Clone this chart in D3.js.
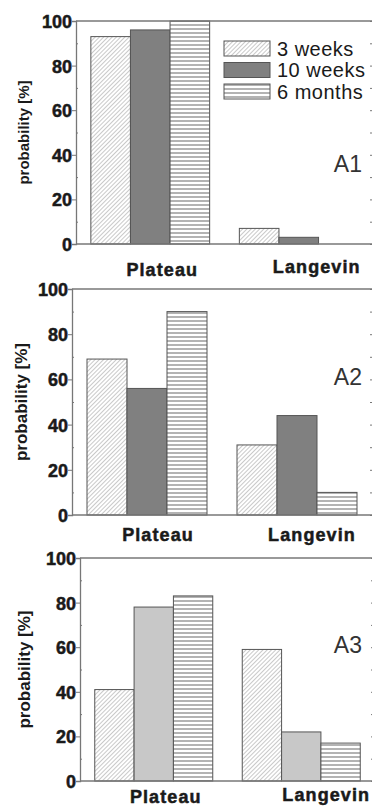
<!DOCTYPE html>
<html>
<head>
<meta charset="utf-8">
<script src="https://cdn.jsdelivr.net/npm/d3@7"></script>
<style>
  body { margin: 0; background: #fff; }
  svg { display: block; }
  svg text { font-family: "Liberation Sans", Arial, sans-serif; }
  svg text.heavy { stroke: #1a1a1a; stroke-width: 0.5px; }
</style>
</head>
<body>
<svg id="chart" width="372" height="807"></svg>
<script>
// data
const categories = ["Plateau", "Langevin"];
const seriesNames = ["3 weeks", "10 weeks", "6 months"];
const panelNames = ["A1", "A2", "A3"];
// values per series: [Plateau, Langevin]
const valuesA1 = [[93, 7], [96, 3], [100, 0]];
const valuesA2 = [[69, 31], [56, 44], [90, 10]];
const valuesA3 = [[41, 59], [78, 22], [83, 17]];
const yTicks = [0, 20, 40, 60, 80, 100];
const yMinorTicks = [10, 30, 50, 70, 90];

const svg = d3.select("#chart");
const axisColor = "#777";
const textColor = "#1a1a1a";

// fill patterns
const defs = svg.append("defs");
const hatch = defs.append("pattern")
  .attr("id", "hatch")
  .attr("patternUnits", "userSpaceOnUse")
  .attr("width", 3).attr("height", 3)
  .attr("patternTransform", "rotate(45)");
hatch.append("rect").attr("width", 3).attr("height", 3).attr("fill", "#fff");
hatch.append("line")
  .attr("x1", 0).attr("y1", 0).attr("x2", 0).attr("y2", 3)
  .attr("stroke", "#888").attr("stroke-width", 0.9);

const stripes = defs.append("pattern")
  .attr("id", "stripes")
  .attr("patternUnits", "userSpaceOnUse")
  .attr("width", 8).attr("height", 4);
stripes.append("rect").attr("width", 8).attr("height", 4).attr("fill", "#fff");
stripes.append("line")
  .attr("x1", 0).attr("y1", 1).attr("x2", 8).attr("y2", 1)
  .attr("stroke", "#8a8a8a").attr("stroke-width", 1.3);

const panels = [
  { values: valuesA1, top: 21, bottom: 244, left: 76, right: 373, frame: 374, solid: "#808080",
    catY: [276, 273], catDx: [12, 18], ylabX: 24, ylabSize: 15, legend: true },
  { values: valuesA2, top: 289, bottom: 515, left: 72, right: 372, frame: 374, solid: "#808080",
    catY: [541, 541], catDx: [11, 15], ylabX: 21, ylabSize: 17, legend: false },
  { values: valuesA3, top: 558, bottom: 781, left: 80, right: 375, frame: 375, solid: "#c8c8c8",
    catY: [803, 801], catDx: [12, 25], ylabX: 24, ylabSize: 17, legend: false }
];

panels.forEach((p, pi) => {
  const fills = ["url(#hatch)", p.solid, "url(#stripes)"];
  const g = svg.append("g");

  const y = d3.scaleLinear().domain([0, 100]).range([p.bottom, p.top]);
  const x0 = d3.scaleBand().domain(categories).range([p.left, p.right])
    .paddingInner(0.2).paddingOuter(0.1);
  const x1 = d3.scaleBand().domain(seriesNames).range([0, x0.bandwidth()]);

  // bars
  categories.forEach((c, ci) => {
    g.append("g")
      .selectAll("rect")
      .data(seriesNames.map((s, si) => ({ s, si, v: p.values[si][ci] })))
      .join("rect")
      .filter(d => d.v > 0)
      .attr("x", d => x0(c) + x1(d.s))
      .attr("y", d => y(d.v))
      .attr("width", x1.bandwidth())
      .attr("height", d => y(0) - y(d.v))
      .attr("fill", d => fills[d.si])
      .attr("stroke", "#555")
      .attr("stroke-width", 1);
  });

  // left axis, major ticks outside
  const left = g.append("g")
    .attr("transform", `translate(${p.left},0)`)
    .call(d3.axisLeft(y).tickValues(yTicks).tickSize(4).tickPadding(0));
  left.attr("font-family", null);
  left.select(".domain").attr("stroke", axisColor).attr("stroke-width", 1.3);
  left.selectAll(".tick line").attr("stroke", axisColor);
  left.selectAll(".tick text")
    .attr("class", "heavy")
    .attr("fill", textColor)
    .style("font-size", "18px")
    .style("font-weight", "bold")
    .attr("dy", "0.36em");

  // minor ticks inside on the left
  g.append("g")
    .attr("transform", `translate(${p.left},0)`)
    .call(d3.axisRight(y).tickValues(yMinorTicks).tickSize(2).tickFormat(""))
    .call(a => a.select(".domain").remove())
    .selectAll("line").attr("stroke", axisColor);

  // right frame with inward ticks
  const right = g.append("g")
    .attr("transform", `translate(${p.frame},0)`)
    .call(d3.axisLeft(y).tickValues(yTicks.concat(yMinorTicks)).tickSize(4).tickFormat("").tickSizeOuter(0));
  right.select(".domain").attr("stroke", axisColor).attr("stroke-width", 1.3);
  right.selectAll("line").attr("stroke", axisColor);

  // top and bottom frame
  g.append("line")
    .attr("x1", p.left).attr("x2", p.frame).attr("y1", y(100)).attr("y2", y(100))
    .attr("stroke", axisColor).attr("stroke-width", 1.3);
  g.append("line")
    .attr("x1", p.left).attr("x2", p.frame).attr("y1", y(0)).attr("y2", y(0))
    .attr("stroke", axisColor).attr("stroke-width", 1.3);

  // category labels
  categories.forEach((c, ci) => {
    g.append("text")
      .attr("class", "heavy")
      .attr("x", x0(c) + x0.bandwidth() / 2 + p.catDx[ci])
      .attr("y", p.catY[ci])
      .attr("text-anchor", "middle")
      .attr("fill", textColor)
      .style("font-size", "18px")
      .style("font-weight", "bold")
      .style("letter-spacing", "1.1px")
      .text(c);
  });

  // y axis title
  g.append("text")
    .attr("transform", `translate(${p.ylabX},${(p.top + p.bottom) / 2}) rotate(-90)`)
    .attr("text-anchor", "middle")
    .attr("dy", "0.35em")
    .attr("fill", textColor)
    .style("font-size", p.ylabSize + "px")
    .style("font-weight", "bold")
    .text("probability [%]");

  // panel name
  g.append("text")
    .attr("x", 362)
    .attr("y", y(pi === 0 ? 36 : 61))
    .attr("dy", "0.36em")
    .attr("text-anchor", "end")
    .attr("fill", "#333")
    .style("font-size", "23px")
    .text(panelNames[pi]);

  // legend
  if (p.legend) {
    const lg = g.append("g").attr("transform", "translate(224,41)");
    const rows = lg.selectAll("g")
      .data(seriesNames)
      .join("g")
      .attr("transform", (d, i) => `translate(0,${i * 21.5})`);
    rows.append("rect")
      .attr("width", 46).attr("height", 15)
      .attr("fill", (d, i) => fills[i])
      .attr("stroke", "#555");
    rows.append("text")
      .attr("x", 53).attr("y", 7.5).attr("dy", "0.36em")
      .attr("fill", textColor)
      .style("font-size", "20px")
      .style("letter-spacing", "0.5px")
      .text(d => d);
  }
});
</script>
</body>
</html>
